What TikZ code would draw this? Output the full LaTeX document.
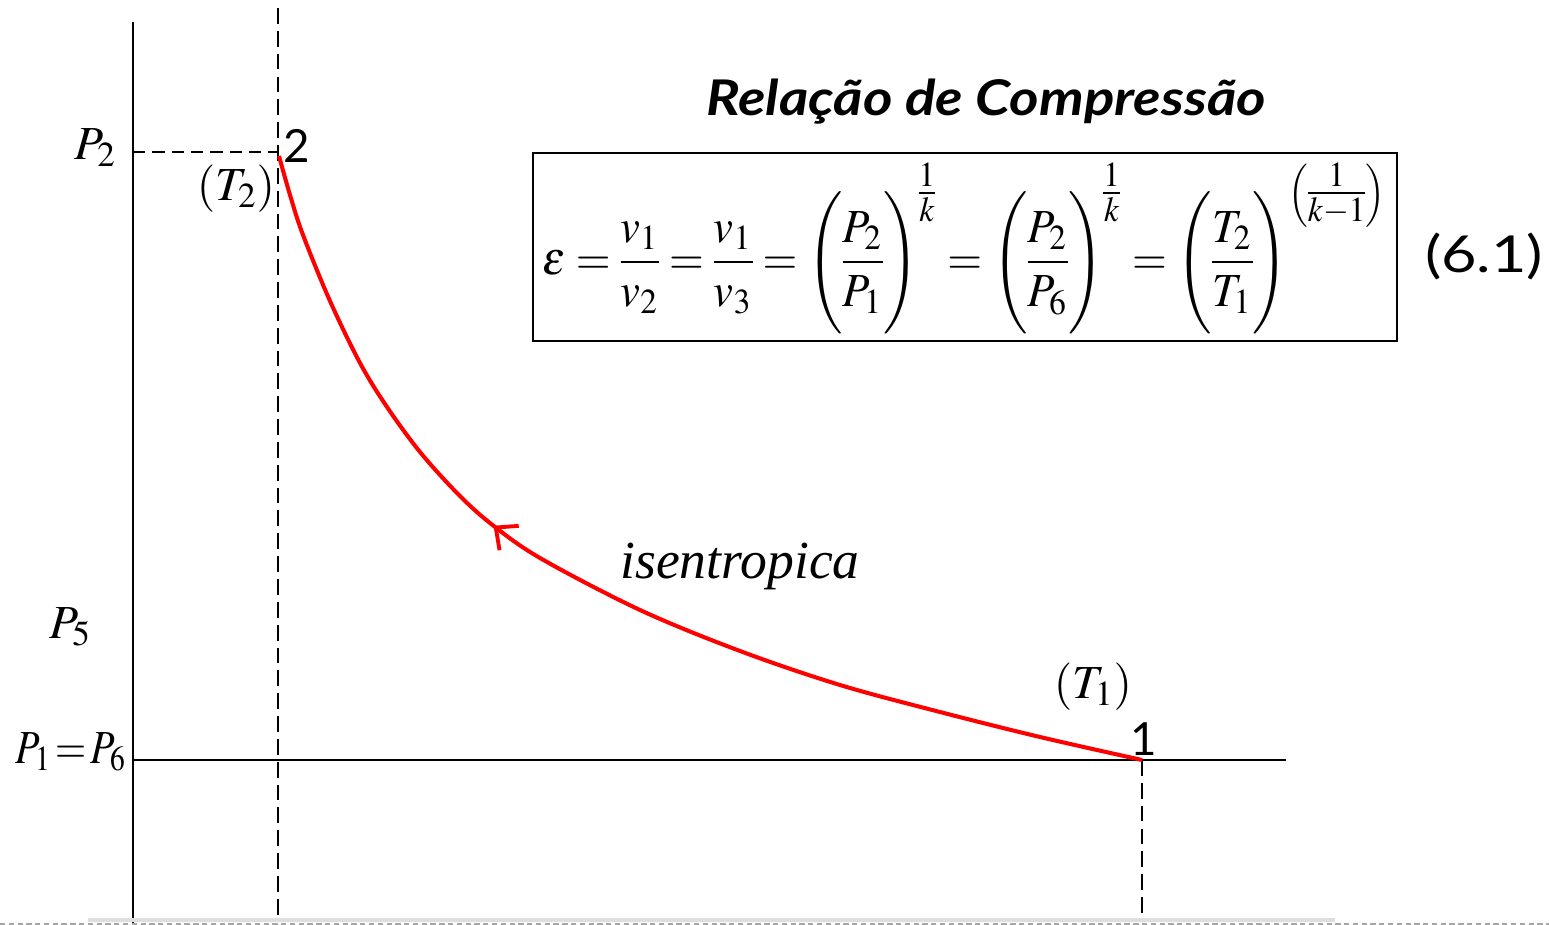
\documentclass[tikz,border=0pt]{standalone}
\usepackage{mathptmx}
\usepackage{graphicx}
\usepackage{fontspec}
\setmainfont{Liberation Serif}
\newfontfamily\gill{Lato}
\usetikzlibrary{arrows.meta,decorations.markings}
\newcommand{\bigpar}[1]{\left(\rule[-1.15em]{0pt}{2.75em}#1\right)}
\newcommand{\tallfrac}[2]{\frac{\rule{0pt}{0.95em}#1}{\rule[-0.3em]{0pt}{0.9em}#2}}
\newcommand{\smallfr}[2]{{\textstyle\frac{#1}{#2}}}
\begin{document}
\begin{tikzpicture}[x=0.02cm,y=-0.02cm,
  axisline/.style={line width=1.1pt,black},
  vdash/.style={line width=1.1pt,black,dash pattern=on 9pt off 4pt},
  hdash/.style={line width=1.1pt,black,dash pattern=on 7pt off 4pt},
  curve/.style={line width=2.3pt,red},
  lbl/.style={inner sep=0pt,font=\fontsize{27}{30}\selectfont},
  num/.style={inner sep=0pt,font=\gill\fontsize{26}{29}\selectfont}]
\useasboundingbox (0,0) rectangle (1549,925);
% coordinates
\coordinate (ytop) at (133,22);
\coordinate (ybot) at (133,925);
\coordinate (o) at (133,760);
\coordinate (xend) at (1286,760);
\coordinate (p2) at (278,152);
\coordinate (p2axis) at (133,152);
\coordinate (d2top) at (278,8);
\coordinate (d2bot) at (278,920);
\coordinate (pt1) at (1142,760);
\coordinate (d1bot) at (1142,920);
% axes
\draw[axisline] (ytop) -- (ybot);
\draw[axisline] (o) -- (xend);
\draw[vdash] (d2top) -- (d2bot);
\draw[hdash] (p2axis) -- (p2);
\draw[vdash] (pt1) -- (d1bot);
% bottom page marks
\draw[line width=2.5pt,black!13] (88,920) -- (1335,920);
\draw[line width=0.8pt,black!35,dash pattern=on 3pt off 2pt] (0,924) -- (1549,924);
% isentropic curve
\draw[curve,postaction={decorate},
  decoration={markings,mark=at position 0.615 with {\arrow[red,line width=2.2pt]{Straight Barb[length=0.34cm,width=0.62cm]}}}]
  plot[smooth,tension=0.55] coordinates {(1142,760) (1040,737) (940,712) (840,685) (740,651) (640,610) (540,558) (490,523) (457,493) (420,452) (387,407) (360,363) (330,301) (303,235) (290,195) (279,156)};
% labels
\node[lbl] (lP2) at (95,148) {$P_2$};
\node[lbl] (lP5) at (70,627) {$P_5$};
\node[lbl,anchor=east] (lP16) at (126,752) {\resizebox{2.2cm}{\height}{$P_1\,{=}\,P_6$}};
\node[lbl] (lT2) at (236,190) {$\left(T_2\rule[-0.3em]{0pt}{1em}\right)$};
\node[lbl] (lT1) at (1093,688) {$\left(T_1\rule[-0.3em]{0pt}{1em}\right)$};
\node[num] (l2) at (297,146) {2};
\node[num] (l1) at (1144,739) {1};
\node[inner sep=0pt,font=\fontsize{30.5}{34}\selectfont\itshape] (iso) at (740,566) {isentropica};
\node[inner sep=0pt,font=\gill\bfseries\itshape\fontsize{28}{32}\selectfont] (title) at (986,102) {\resizebox{11.2cm}{\height}{Relação de Compressão}};
\node[draw,line width=1pt,minimum width=17.28cm,minimum height=3.76cm,inner sep=0pt] (box) at (965,247) {};
\node[inner sep=0pt] (eq) at (965,248) {\resizebox*{16.9cm}{3.42cm}{\thickmuskip=4mu\nulldelimiterspace=0pt$\displaystyle
  \varepsilon=\tallfrac{v_1}{v_2}=\tallfrac{v_1}{v_3}=\bigpar{\tallfrac{P_2}{P_1}}^{\smallfr{1}{k}}=\bigpar{\tallfrac{P_2}{P_6}}^{\smallfr{1}{k}}=\bigpar{\tallfrac{T_2}{T_1}}^{\left(\smallfr{1}{k-1}\right)}$}};
\node[num] (eqn) at (1484,256) {\resizebox{2.36cm}{\height}{\fontsize{29}{32}\selectfont (6.1)}};
\end{tikzpicture}
\end{document}
